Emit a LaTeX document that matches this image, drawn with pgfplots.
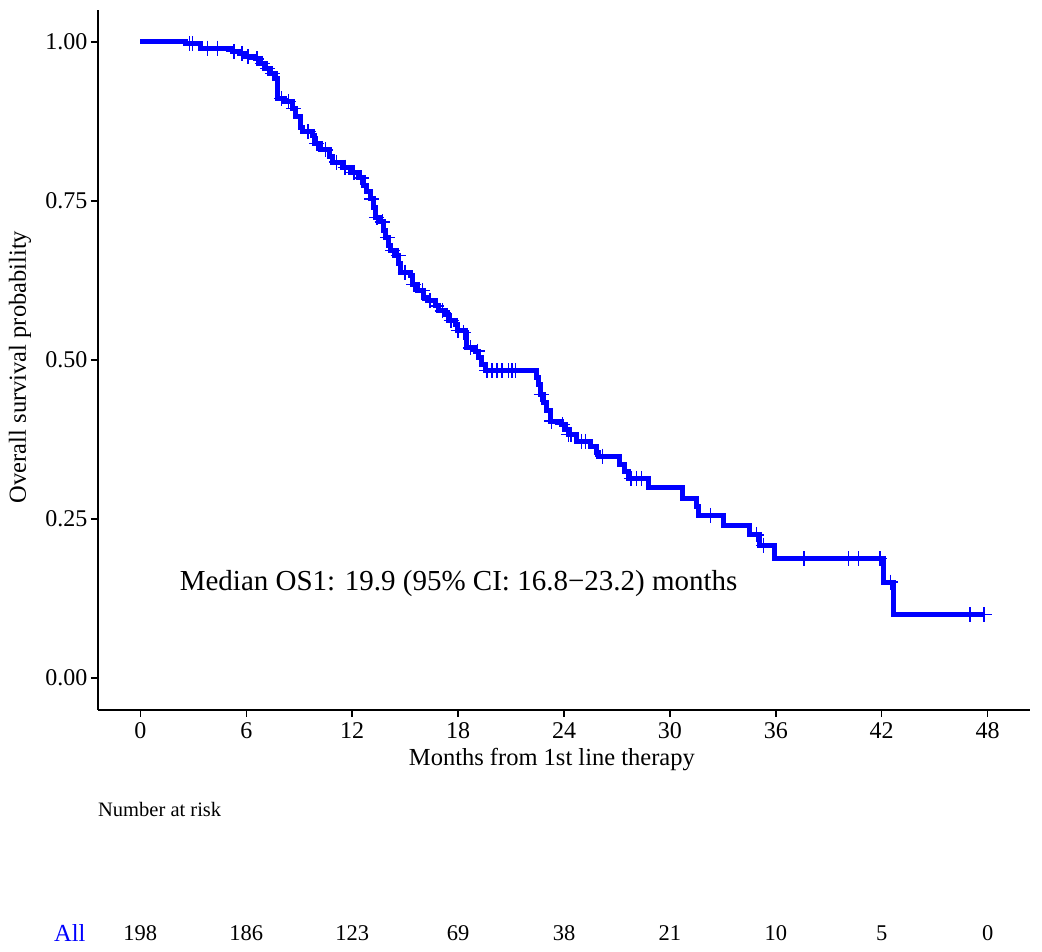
\documentclass[border=0pt]{standalone}
\usepackage{fontspec}
\setmainfont{Liberation Serif}
\usepackage{pgfplots}
\pgfplotsset{compat=1.18}
\definecolor{kmblue}{RGB}{0,0,255}
\begin{document}
\begin{tikzpicture}
\useasboundingbox (-98pt,-242pt) rectangle (944pt,710pt);
\begin{axis}[
  at={(0,0)}, anchor=south west,
  scale only axis, width=932pt, height=700pt,
  xmin=-2.4, xmax=50.4, ymin=-0.05, ymax=1.05,
  axis x line*=bottom, axis y line*=left,
  xtick={0,6,...,48}, ytick={0,0.25,0.5,0.75,1},
  yticklabels={0.00,0.25,0.50,0.75,1.00},
  tick align=outside, major tick length=7pt,
  tick style={black, line width=1.5pt},
  axis line style={black, line width=2pt},
  ticklabel style={font=\fontsize{24}{28}\selectfont},
  xticklabel style={yshift=-2pt},
  label style={font=\fontsize{24.5}{29}\selectfont},
  xlabel={Months from 1st line therapy},
  ylabel={Overall survival probability},
  xlabel style={at={(axis description cs:0.487,-0.0714)}, anchor=center},
  ylabel style={at={(axis description cs:-0.0837,0.49)}, anchor=center},
  clip=false,
  /pgf/number format/assume math mode=true,
]
\addplot[const plot, kmblue, line width=5pt] table {
x y
0 1.000
2.58 0.997
3.43 0.990
5.2 0.985
5.6 0.982
5.97 0.977
6.54 0.973
6.82 0.966
7.1 0.958
7.29 0.950
7.67 0.943
7.76 0.911
8.14 0.906
8.61 0.895
8.8 0.882
9.08 0.866
9.18 0.859
9.74 0.853
9.84 0.840
10.2 0.830
10.7 0.819
10.87 0.811
11.44 0.803
11.9 0.795
12.38 0.786
12.66 0.774
12.8 0.764
13.04 0.753
13.23 0.740
13.32 0.724
13.6 0.717
13.79 0.703
13.9 0.693
14.08 0.680
14.17 0.672
14.45 0.664
14.64 0.651
14.74 0.638
15.3 0.632
15.39 0.619
15.68 0.609
16.05 0.598
16.24 0.593
16.71 0.585
16.9 0.577
17.28 0.572
17.47 0.562
17.85 0.556
17.94 0.546
18.41 0.543
18.5 0.519
18.98 0.514
19.16 0.504
19.35 0.493
19.54 0.483
22.42 0.472
22.56 0.462
22.65 0.446
22.84 0.433
23.02 0.420
23.22 0.404
23.87 0.399
24.06 0.391
24.25 0.383
24.72 0.372
25.48 0.364
25.85 0.354
25.95 0.349
27.12 0.336
27.45 0.325
27.64 0.314
28.8 0.299
30.7 0.283
31.5 0.270
31.6 0.256
33.05 0.240
34.52 0.225
35.09 0.209
35.9 0.188
42.08 0.151
42.65 0.100
47.8 0.100
};
\addplot[only marks, mark=+, mark size=7.5pt, kmblue, mark options={line width=1.3pt}] table {
x y
2.77 0.997
2.96 0.997
3.8 0.990
4.37 0.990
5.3 0.985
5.75 0.982
6.1 0.977
6.6 0.973
6.9 0.966
7.2 0.958
7.5 0.950
8.0 0.911
8.4 0.906
8.7 0.895
9.5 0.859
10.0 0.840
10.5 0.830
11.1 0.811
11.6 0.803
12.1 0.795
12.5 0.786
13.1 0.753
13.4 0.724
13.7 0.717
14.0 0.693
14.3 0.672
14.6 0.664
15.0 0.638
15.5 0.619
16.0 0.609
16.4 0.593
16.8 0.585
17.1 0.577
17.6 0.562
18.0 0.546
18.3 0.543
18.7 0.519
19.1 0.514
19.63 0.483
19.92 0.483
20.2 0.483
20.48 0.483
20.86 0.483
21.05 0.483
21.24 0.483
22.7 0.446
23.3 0.404
23.9 0.399
24.25 0.383
24.4 0.383
25.0 0.372
25.2 0.372
26.2 0.349
27.8 0.314
28.1 0.314
28.4 0.314
32.3 0.256
34.9 0.225
35.3 0.209
37.6 0.188
40.1 0.188
40.7 0.188
41.9 0.188
42.5 0.151
47.0 0.100
47.8 0.100
};
\addplot[draw=none, nodes near coords, point meta=explicit symbolic,
  every node near coord/.append style={anchor=center, inner sep=0pt, black, font=\fontsize{22.5}{26}\selectfont}]
  coordinates {(0,-0.4006)[198] (6,-0.4006)[186] (12,-0.4006)[123] (18,-0.4006)[69] (24,-0.4006)[38] (30,-0.4006)[21] (36,-0.4006)[10] (42,-0.4006)[5] (48,-0.4006)[0]};
\node[anchor=center, font=\fontsize{24.5}{29}\selectfont, text=kmblue, inner sep=0pt] at (axis cs:-4.0,-0.4006) {All};
\node[anchor=west, font=\fontsize{20.5}{24}\selectfont, inner sep=0pt] at (axis cs:-2.4,-0.2066) {Number at risk};
\node[anchor=center, font=\fontsize{29}{34}\selectfont, inner sep=0pt] at (axis cs:18.03,0.148) {Median OS1: 19.9 (95\% CI: 16.8−23.2) months};
\end{axis}
\end{tikzpicture}
\end{document}
